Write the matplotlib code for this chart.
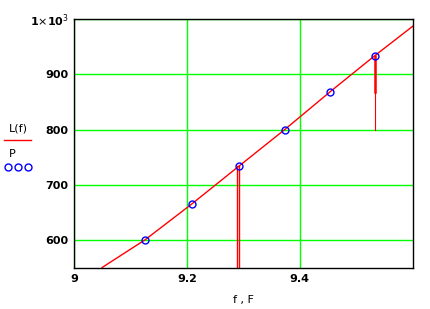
import numpy as np
import matplotlib.pyplot as plt
from matplotlib.lines import Line2D

# curve L(f)
f_line = [9.05, 9.126, 9.209, 9.292, 9.373, 9.453, 9.533, 9.6]
L_line = [551, 601, 666, 734, 800, 868, 934, 987]

# measured points P
F_pts = [9.126, 9.209, 9.292, 9.373, 9.453, 9.533]
P_pts = [601, 666, 734, 800, 868, 934]

# stems
stem_x = [9.289, 9.292, 9.533]
stem_top = [734, 734, 934]
stem_bot = [550, 550, 800]
stem_w = [1.0, 1.0, 0.8]
thick_x, thick_top, thick_bot = 9.533, 934, 868

xticks = [9, 9.2, 9.4]
xlabels = ['9', '9.2', '9.4']
yticks = [600, 700, 800, 900, 1000]
ylabels = ['600', '700', '800', '900', r'1$\times$10$^{3}$']

fig = plt.figure(figsize=[4.3, 3.09], dpi=100)
ax = fig.add_axes([0.172, 0.1327, 0.788, 0.8058])

for x, t, b, w in zip(stem_x, stem_top, stem_bot, stem_w):
    ax.plot([x, x], [b, t], color='red', lw=w, zorder=2)
ax.plot([thick_x, thick_x], [thick_bot, thick_top], color='red', lw=1.8, zorder=2)

ax.plot(f_line, L_line, color='red', lw=1.0, zorder=3)
ax.plot(F_pts, P_pts, 'o', ms=5, mfc='none', mec='blue', mew=1.0, zorder=4)

ax.set_xlim(9, 9.6)
ax.set_ylim(550, 1000)
ax.set_xticks(xticks)
ax.set_xticklabels(xlabels, fontsize=8, fontweight='bold')
ax.set_yticks(yticks)
ax.set_yticklabels(ylabels, fontsize=8, fontweight='bold')
ax.tick_params(length=0, pad=4)
ax.grid(True, color='#00ff00', lw=1.0)
ax.set_axisbelow(True)
for s in ax.spines.values():
    s.set_color('black')
    s.set_linewidth(1.0)
    s.set_zorder(5)

ax.set_xlabel('f , F', fontsize=8, labelpad=8)

# legend on the left
fig.text(0.043, 0.585, 'L(f)', fontsize=8, ha='center', va='center')
fig.add_artist(Line2D([0.01, 0.072], [0.547, 0.547], color='red', lw=1.0))
fig.text(0.02, 0.503, 'P', fontsize=8, ha='left', va='center')
fig.add_artist(Line2D([0.018, 0.042, 0.066], [0.458, 0.458, 0.458], ls='none',
                      marker='o', ms=5, mfc='none', mec='blue', mew=1.0))

fig.savefig('out.png', dpi=100)
